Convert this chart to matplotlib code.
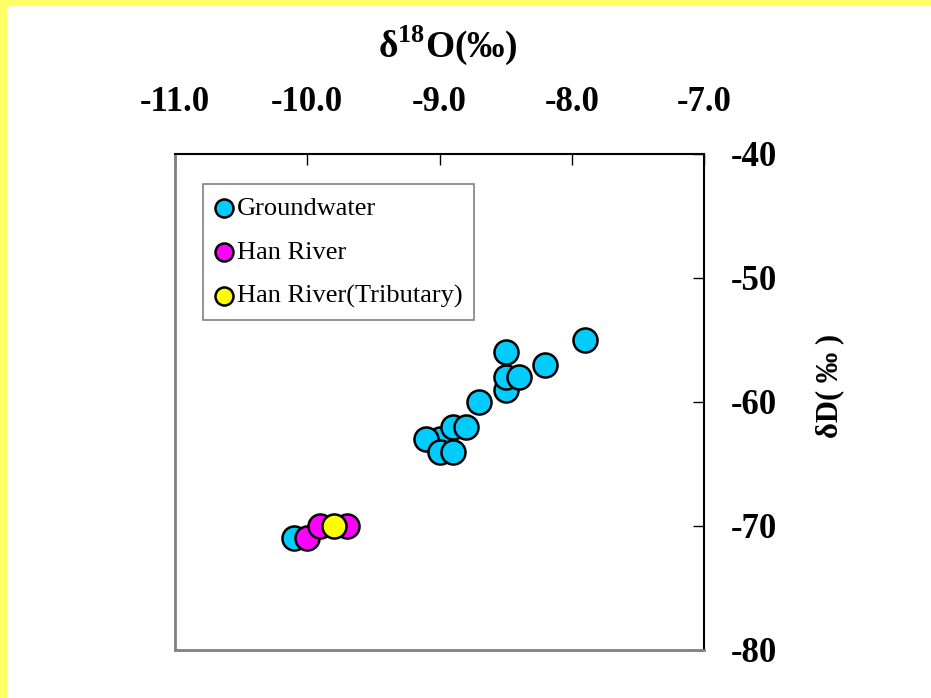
import numpy as np
import matplotlib.pyplot as plt
from matplotlib.patches import Rectangle

# isotope data (per mil)
gw_o18 = np.array([-8.5, -8.5, -8.4, -8.5, -8.2, -7.9, -8.7, -9.0, -8.9,
                   -8.8, -9.1, -9.0, -8.9, -10.1])
gw_d = np.array([-59, -58, -58, -56, -57, -55, -60, -63, -62,
                 -62, -63, -64, -64, -71])

han_o18 = np.array([-10.0, -9.9, -9.7])
han_d = np.array([-71, -70, -70])

trib_o18 = np.array([-9.8])
trib_d = np.array([-70])

x_ticks = [-11.0, -10.0, -9.0, -8.0, -7.0]
y_ticks = [-40, -50, -60, -70, -80]

plt.rcParams['font.family'] = ['Liberation Serif', 'DejaVu Serif']
plt.rcParams['mathtext.fontset'] = 'custom'
plt.rcParams['mathtext.rm'] = 'Liberation Serif:bold'
plt.rcParams['mathtext.bf'] = 'Liberation Serif:bold'

fig = plt.figure(figsize=(9.31, 6.98), dpi=100)
ax = fig.add_axes([175 / 931, 48 / 698, 529 / 931, 496 / 698])

# yellow strips on top and left edge
fig.add_artist(Rectangle((0, 0), 6 / 931, 1, transform=fig.transFigure,
                         color='#ffff66', zorder=0))
fig.add_artist(Rectangle((0, 1 - 5 / 698), 1, 5 / 698, transform=fig.transFigure,
                         color='#ffff66', zorder=0))

mk = dict(s=300, edgecolors='black', linewidths=1.8, zorder=3)
ax.scatter(gw_o18, gw_d, c='#00ccff', label='Groundwater', **mk)
ax.scatter(han_o18, han_d, c='#ff00ff', label='Han River', **mk)
ax.scatter(trib_o18, trib_d, c='#ffff00', label='Han River(Tributary)', **mk)

ax.set_xlim(-11, -7)
ax.set_ylim(-80, -40)

ax.xaxis.tick_top()
ax.yaxis.tick_right()
ax.set_xticks(x_ticks)
ax.set_xticklabels([f'{v:.1f}' for v in x_ticks])
ax.set_yticks(y_ticks)
ax.set_yticklabels([str(v) for v in y_ticks])
ax.tick_params(axis='x', direction='in', length=8, width=1, pad=25,
               labelsize=25)
ax.tick_params(axis='y', direction='in', length=8, width=1, pad=19,
               labelsize=25)
for lab in ax.get_xticklabels() + ax.get_yticklabels():
    lab.set_fontweight('bold')

for side in ['left', 'bottom']:
    ax.spines[side].set_color('#808080')
    ax.spines[side].set_linewidth(2)
for side in ['top', 'right']:
    ax.spines[side].set_color('black')
    ax.spines[side].set_linewidth(1.5)

ax.xaxis.set_label_position('top')
ax.set_xlabel('δ$^{18}$O(‰)', fontsize=27, fontweight='bold')
ax.xaxis.set_label_coords(0.516, 1.196)

ax.yaxis.set_label_position('right')
ax.set_ylabel('δD( ‰ )', fontsize=22, fontweight='bold')
ax.yaxis.set_label_coords(1.21, 0.532)

leg = ax.legend(loc='upper left', bbox_to_anchor=(0.053, 0.939),
                borderaxespad=0, fontsize=19, markerscale=0.75,
                frameon=True, fancybox=False, edgecolor='#606060',
                handlelength=0.7, handletextpad=0.12, labelspacing=0.78,
                borderpad=0.45, scatterpoints=1)
leg.get_frame().set_linewidth(1.2)

plt.savefig('out.png', dpi=100)
